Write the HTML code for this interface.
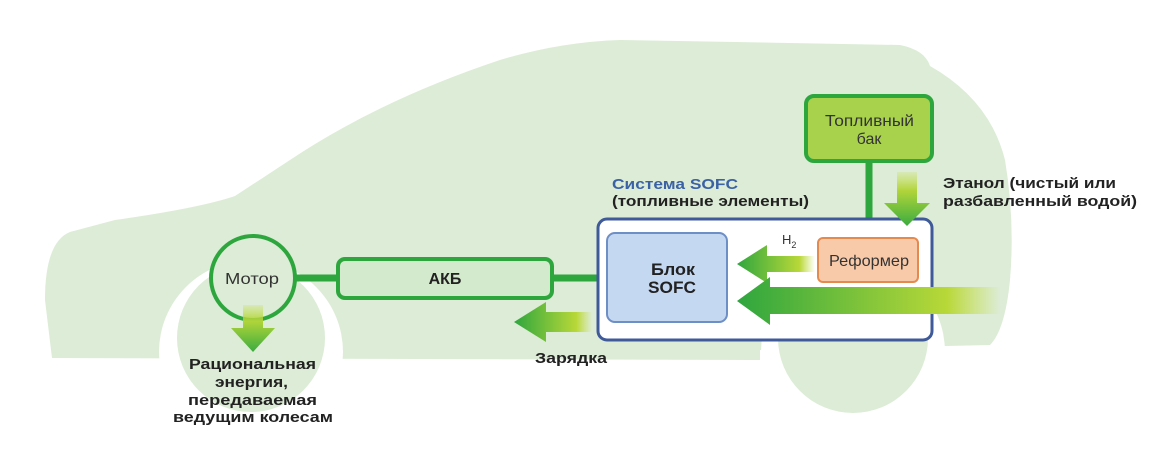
<!DOCTYPE html>
<html><head><meta charset="utf-8"><style>
body{margin:0;background:#fff;}
svg{display:block;font-family:"Liberation Sans",sans-serif;}
</style></head><body>
<svg width="1170" height="451" viewBox="0 0 1170 451" xmlns="http://www.w3.org/2000/svg">
<defs>
<linearGradient id="gl" x1="1" y1="0" x2="0" y2="0">
<stop offset="0" stop-color="#c4dc3c" stop-opacity="0"/>
<stop offset="0.2" stop-color="#b8d838"/>
<stop offset="1" stop-color="#2ea63e"/>
</linearGradient>
<linearGradient id="gd" x1="0" y1="0" x2="0" y2="1">
<stop offset="0" stop-color="#c4dc3c" stop-opacity="0.2"/>
<stop offset="0.35" stop-color="#b0d43a"/>
<stop offset="1" stop-color="#3aac3e"/>
</linearGradient>
</defs>
<path d="M52,358 L45,300 Q45,242 70,232 L115,220 Q200,208 235,196 L290,160 Q380,100 500,60 Q560,42 620,40 L900,45 Q925,50 930,66 Q990,100 1005,160 Q1015,220 1010,280 Q1005,330 990,345 L760,350 L760,360 Z" fill="#dcecd6"/>
<circle cx="251" cy="352" r="92" fill="#fff"/>
<circle cx="853" cy="352" r="92" fill="#fff"/>
<circle cx="251" cy="338" r="74" fill="#dcecd6"/>
<circle cx="853" cy="338" r="75" fill="#dcecd6"/>
<line x1="294" y1="278" x2="340" y2="278" stroke="#2ea63e" stroke-width="7"/>
<line x1="550" y1="278" x2="602" y2="278" stroke="#2ea63e" stroke-width="7"/>
<line x1="869" y1="160" x2="869" y2="240" stroke="#2ea63e" stroke-width="7"/>
<circle cx="253" cy="278" r="42" fill="#dcecd6" stroke="#2ea63e" stroke-width="4"/>
<text x="225" y="284" font-size="16" textLength="54" lengthAdjust="spacingAndGlyphs" fill="#333">Мотор</text>
<path d="M243,305 H263 V328 H275 L253,352 L231,328 H243 Z" fill="url(#gd)"/>
<rect x="338" y="259" width="214" height="39" rx="7" fill="#d4eacd" stroke="#2ea63e" stroke-width="4"/>
<text x="445" y="284" font-size="16" font-weight="bold" text-anchor="middle" fill="#222">АКБ</text>
<path d="M592,312 H546 V302 L514,322 L546,342 V332 H592 Z" fill="url(#gl)"/>
<text x="535" y="363" font-size="15" font-weight="bold" textLength="72" lengthAdjust="spacingAndGlyphs" fill="#222">Зарядка</text>
<rect x="598" y="219" width="334" height="121" rx="9" fill="#fff" stroke="#3f5a98" stroke-width="3"/>
<rect x="607" y="233" width="120" height="89" rx="8" fill="#c5d8f2" stroke="#6d8fc6" stroke-width="2"/>
<text x="651" y="275" font-size="17" font-weight="bold" textLength="44" lengthAdjust="spacingAndGlyphs" fill="#222">Блок</text>
<text x="648" y="293" font-size="17" font-weight="bold" textLength="48" lengthAdjust="spacingAndGlyphs" fill="#222">SOFC</text>
<rect x="818" y="238" width="100" height="44" rx="5" fill="#f9caa9" stroke="#e58a4f" stroke-width="2"/>
<text x="829" y="266" font-size="16" textLength="80" lengthAdjust="spacingAndGlyphs" fill="#333">Реформер</text>
<path d="M815,256 H767 V245 L737,264 L767,283 V272 H815 Z" fill="url(#gl)"/>
<text x="782" y="244" font-size="13" fill="#333">H<tspan font-size="9" dy="4">2</tspan></text>
<path d="M1000,287 H770 V277 L737,301 L770,325 V314 H1000 Z" fill="url(#gl)"/>
<rect x="806" y="96" width="126" height="65" rx="8" fill="#a9d24c" stroke="#2ea63e" stroke-width="4"/>
<text x="825" y="126" font-size="16" textLength="89" lengthAdjust="spacingAndGlyphs" fill="#333">Топливный</text>
<text x="869" y="144" font-size="16" text-anchor="middle" fill="#333">бак</text>
<path d="M897,172 H917 V203 H930 L907,226 L884,203 H897 Z" fill="url(#gd)"/>
<text x="612" y="189" font-size="15" font-weight="bold" textLength="126" lengthAdjust="spacingAndGlyphs" fill="#3b62a6">Система SOFC</text>
<text x="612" y="206" font-size="15" font-weight="bold" textLength="197" lengthAdjust="spacingAndGlyphs" fill="#222">(топливные элементы)</text>
<text x="943" y="188" font-size="15" font-weight="bold" textLength="173" lengthAdjust="spacingAndGlyphs" fill="#222">Этанол (чистый или</text>
<text x="943" y="206" font-size="15" font-weight="bold" textLength="194" lengthAdjust="spacingAndGlyphs" fill="#222">разбавленный водой)</text>
<g font-size="15" font-weight="bold" fill="#222" lengthAdjust="spacingAndGlyphs">
<text x="189" y="369" textLength="127" lengthAdjust="spacingAndGlyphs">Рациональная</text>
<text x="215" y="387" textLength="73" lengthAdjust="spacingAndGlyphs">энергия,</text>
<text x="188" y="405" textLength="129" lengthAdjust="spacingAndGlyphs">передаваемая</text>
<text x="173" y="422" textLength="160" lengthAdjust="spacingAndGlyphs">ведущим колесам</text>
</g>
</svg>
</body></html>
